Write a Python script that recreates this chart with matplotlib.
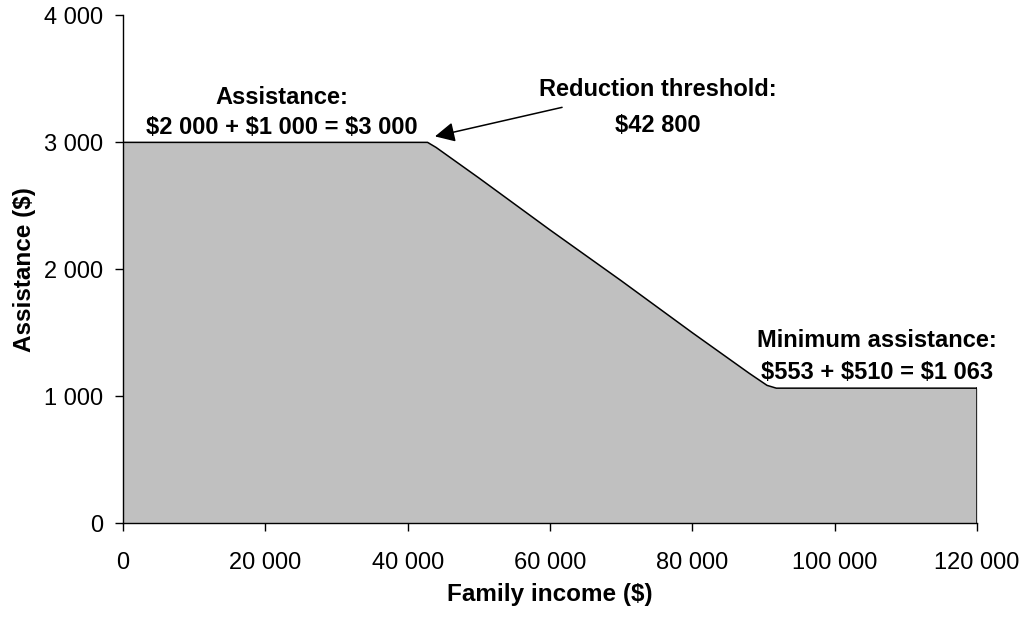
import numpy as np
import matplotlib.pyplot as plt

plt.rcParams['font.family'] = ['Liberation Sans', 'DejaVu Sans']

# Assistance schedule by family income
income = [0, 42800, 44000, 50000, 60000, 70000, 80000, 88000, 90500, 91800, 120000]
assistance = [3000, 3000, 2960, 2720, 2310, 1910, 1500, 1180, 1085, 1063, 1063]

x_ticks = [0, 20000, 40000, 60000, 80000, 100000, 120000]
y_ticks = [0, 1000, 2000, 3000, 4000]


def fmt(v):
    return f"{v:,.0f}".replace(",", " ")


fig = plt.figure(figsize=(10.28, 6.19), dpi=100)
ax = fig.add_axes([0.1196, 0.155, 0.8308, 0.82])

ax.fill_between(income, assistance, 0, color='#c0c0c0', linewidth=0)
ax.plot(income, assistance, color='black', linewidth=1.1)
ax.plot([income[-1], income[-1]], [0, assistance[-1]], color='black', linewidth=1.1)

ax.set_xlim(0, 120000)
ax.set_ylim(0, 4000)
ax.set_xticks(x_ticks)
ax.set_xticklabels([fmt(v) for v in x_ticks])
ax.set_yticks(y_ticks)
ax.set_yticklabels([fmt(v) for v in y_ticks])
ax.tick_params(direction='out', length=6, width=1, labelsize=17, pad=8)
ax.tick_params(axis='x', pad=14.5)

for side in ['top', 'right']:
    ax.spines[side].set_visible(False)
for side in ['left', 'bottom']:
    ax.spines[side].set_linewidth(1)

ax.set_xlabel('Family income ($)', fontsize=17.5, fontweight='bold', labelpad=7)
ax.set_ylabel('Assistance ($)', fontsize=17.5, fontweight='bold', labelpad=6)

bold = dict(fontsize=17, fontweight='bold', ha='center', va='center')
ax.text(22300, 3350, 'Assistance:', **bold)
ax.text(22300, 3115, '$2 000 + $1 000 = $3 000', **bold)
ax.text(75100, 3420, 'Reduction threshold:', **bold)
ax.text(75100, 3130, '$42 800', **bold)
ax.text(106000, 1435, 'Minimum assistance:', **bold)
ax.text(106000, 1185, '$553 + $510 = $1 063', **bold)

ax.annotate('', xy=(43840, 3047), xytext=(61700, 3276),
            arrowprops=dict(arrowstyle='-|>', color='black', lw=1.1,
                            mutation_scale=30, shrinkA=0, shrinkB=0))

fig.savefig('out.png', dpi=100)
